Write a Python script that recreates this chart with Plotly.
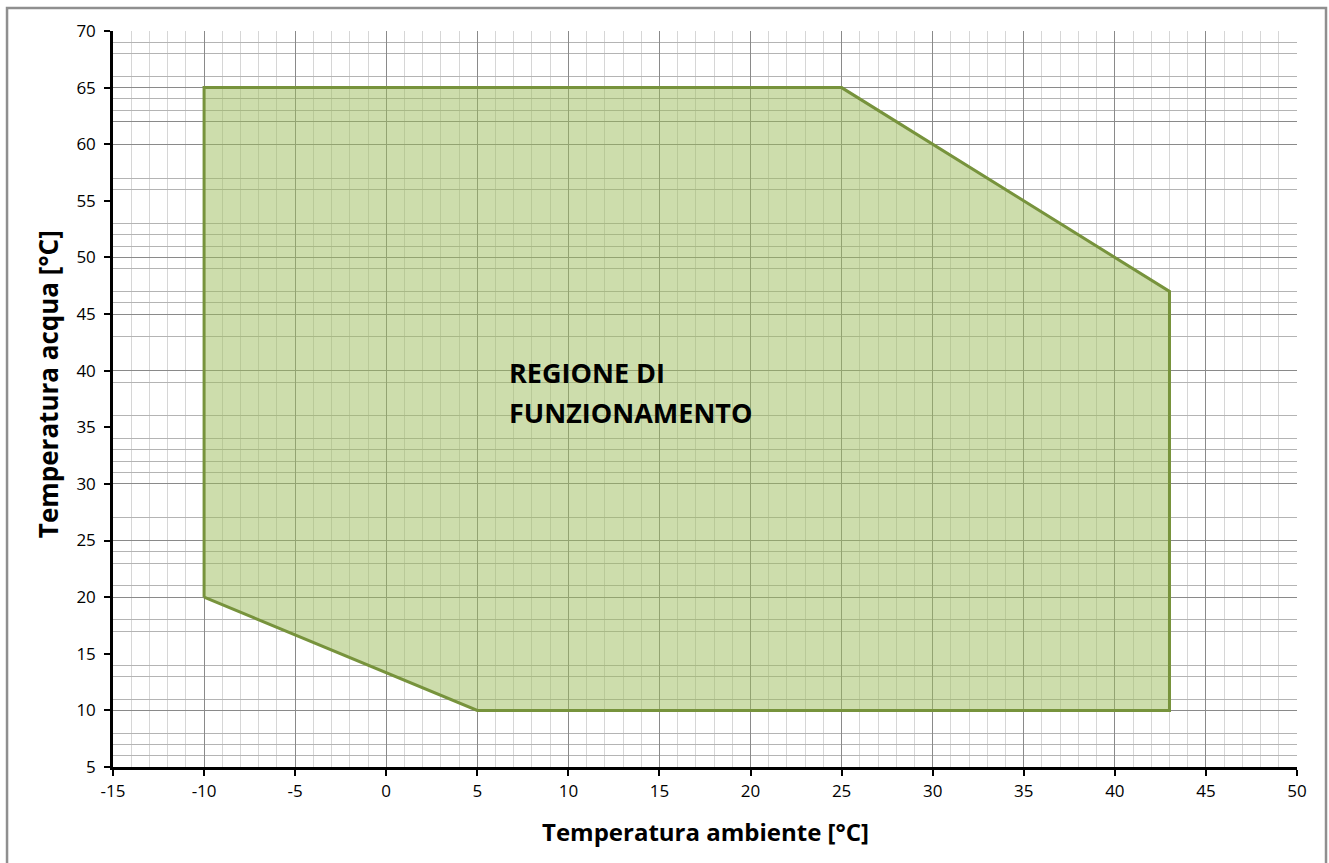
import plotly.graph_objects as go

# Operating envelope: ambient temperature (x) vs water temperature (y)
region_x = [-10, -10, 25, 43, 43, 5, -10]
region_y = [20, 65, 65, 47, 10, 10, 20]

x_ticks = list(range(-15, 51, 5))
x_tick_text = [str(v) for v in x_ticks]   # plain hyphen for negatives
y_ticks = list(range(5, 71, 5))
y_tick_text = [str(v) for v in y_ticks]

# horizontal grid lines present on the chart
y_grid_light = [69, 68, 66, 64, 63, 57, 56, 53, 52, 51, 49, 47, 46, 43, 39, 36,
                34, 33, 32, 31, 27, 24, 23, 21, 18, 17, 14, 13, 11, 8, 7, 6]
y_grid_dark = [65, 62, 60, 50, 45, 40, 30, 25, 20, 10]

FONT = "Open Sans"

fig = go.Figure()

fig.add_trace(go.Scatter(
    x=region_x, y=region_y,
    mode="lines",
    fill="toself",
    fillcolor="rgba(155,187,89,0.5)",
    line=dict(color="#77933C", width=3),
    hoverinfo="skip",
    showlegend=False,
))

# empty trace so the overlay axis carrying the darker grid is drawn
fig.add_trace(go.Scatter(x=[], y=[], yaxis="y2", showlegend=False, hoverinfo="skip"))

fig.update_layout(
    width=1329, height=863,
    margin=dict(l=113, r=32, t=31, b=96),
    paper_bgcolor="white",
    plot_bgcolor="white",
    font=dict(family=FONT, color="black", size=17),
    xaxis=dict(
        range=[-15, 50],
        tickmode="array", tickvals=x_ticks, ticktext=x_tick_text,
        showgrid=True, gridcolor="#8a8a8a", gridwidth=1,
        minor=dict(dtick=1, tick0=0, showgrid=True, gridcolor="#d6d6d6", gridwidth=1, ticks=""),
        zeroline=False,
        showline=True, linecolor="black", linewidth=2.5,
        ticks="outside", ticklen=6, tickwidth=2, tickcolor="black",
        tickfont=dict(family=FONT, size=17, color="black"),
        ticklabelstandoff=1,
    ),
    yaxis=dict(
        range=[5, 70],
        tickmode="array", tickvals=y_ticks, ticktext=y_tick_text,
        showgrid=False,
        minor=dict(tickmode="array", tickvals=y_grid_light, showgrid=True,
                   gridcolor="#b4b4b4", gridwidth=1, ticks=""),
        zeroline=False,
        showline=True, linecolor="black", linewidth=2.5,
        ticks="outside", ticklen=6, tickwidth=2, tickcolor="black",
        tickfont=dict(family=FONT, size=17, color="black"),
        ticklabelstandoff=5,
    ),
    yaxis2=dict(
        range=[5, 70],
        overlaying="y", anchor="x", side="left",
        tickmode="array", tickvals=y_grid_dark,
        showticklabels=False, ticks="",
        showgrid=True, gridcolor="#8a8a8a", gridwidth=1,
        zeroline=False, showline=False,
    ),
    annotations=[
        dict(text="REGIONE DI", x=6.65, y=39.85, xref="x", yref="y",
             xanchor="left", yanchor="middle", showarrow=False,
             font=dict(family=FONT, size=27, color="black", weight="bold")),
        dict(text="FUNZIONAMENTO", x=6.65, y=36.3, xref="x", yref="y",
             xanchor="left", yanchor="middle", showarrow=False,
             font=dict(family=FONT, size=27, color="black", weight="bold")),
        dict(text="Temperatura ambiente [°C]", x=0.5, y=-0.087, xref="paper", yref="paper",
             xanchor="center", yanchor="middle", showarrow=False,
             font=dict(family=FONT, size=24, color="black", weight="bold")),
        dict(text="Temperatura acqua [°C]", x=-0.055, y=0.52, xref="paper", yref="paper",
             xanchor="center", yanchor="middle", showarrow=False, textangle=-90,
             font=dict(family=FONT, size=26, color="black", weight="bold")),
    ],
    shapes=[
        # outer frame of the chart
        dict(type="rect", xref="paper", yref="paper",
             x0=-0.0895, x1=1.0245, y0=-0.2, y1=1.0313,
             line=dict(color="#8f8f8f", width=2.5), fillcolor="rgba(0,0,0,0)", layer="above"),
    ],
)

fig.write_html("out.html")
